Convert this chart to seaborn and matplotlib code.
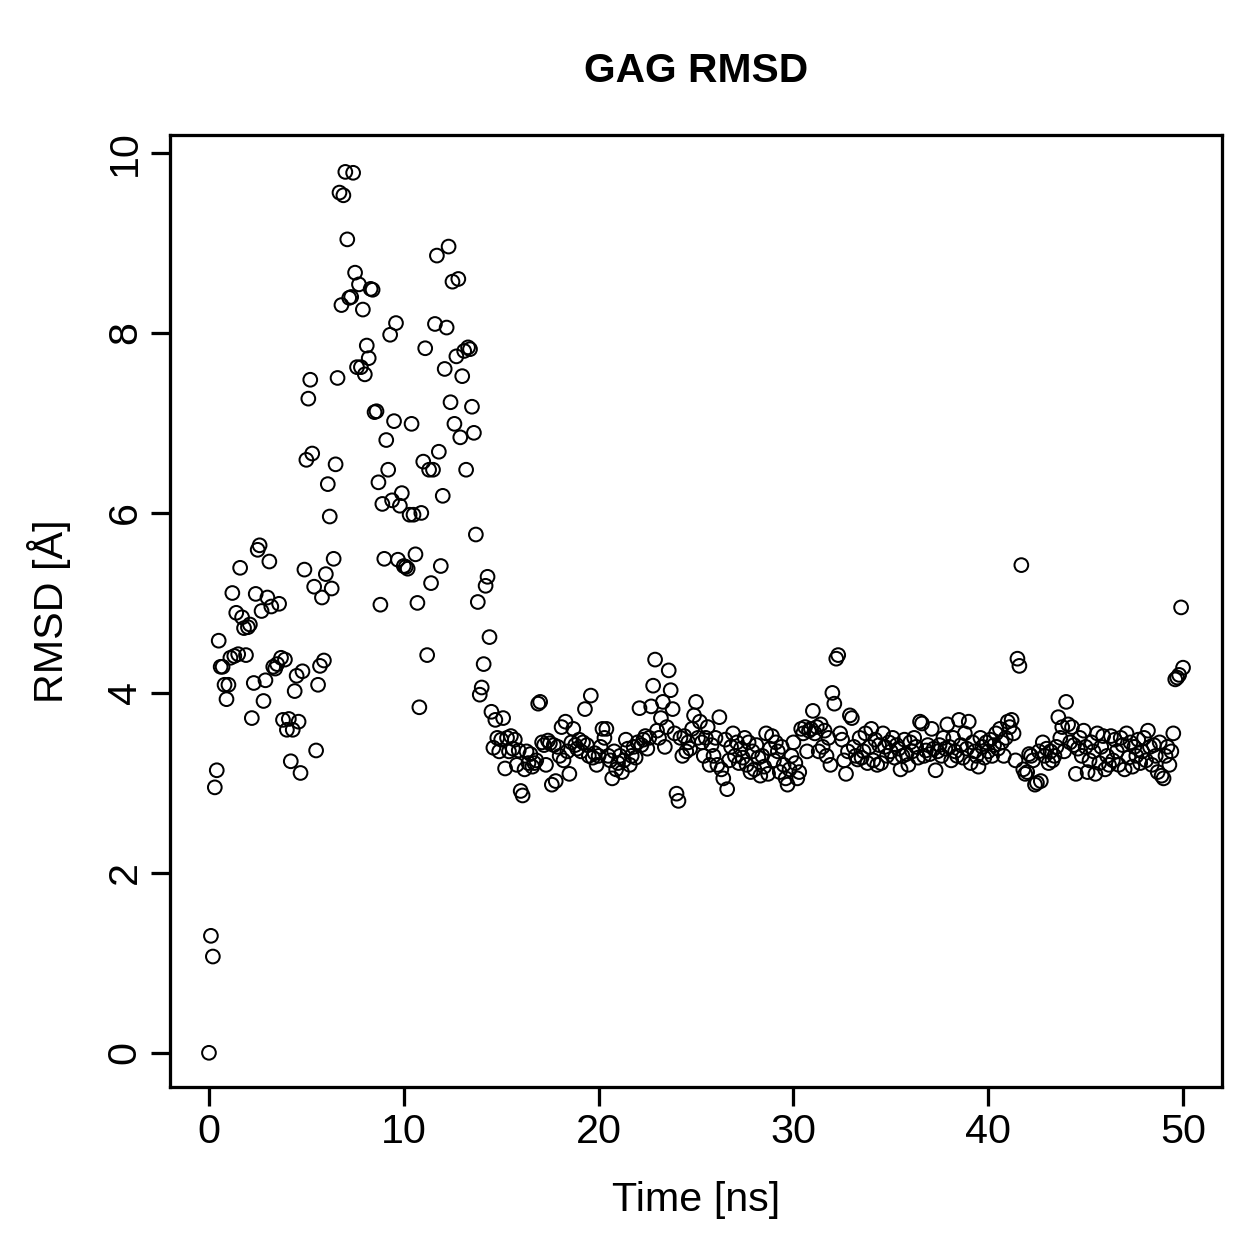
import numpy as np
import pandas as pd
import matplotlib
matplotlib.use("Agg")
import matplotlib.pyplot as plt
import seaborn as sns

# RMSD values (Å), sampled every 0.1 ns from 0 to 50 ns
rmsd_early = [
    0.0, 1.3, 1.07, 2.95, 3.14, 4.58, 4.29, 4.29, 4.09, 3.93,
    4.09, 4.39, 5.11, 4.41, 4.89, 4.43, 5.39, 4.84, 4.72, 4.42,
    4.73, 4.76, 3.72, 4.11, 5.1, 5.59, 5.64, 4.91, 3.91, 4.14,
    5.06, 5.46, 4.96, 4.29, 4.27, 4.32, 4.99, 4.39, 3.7, 4.37,
    3.59, 3.71, 3.24, 3.59, 4.02, 4.19, 3.68, 3.11, 4.24, 5.37,
    6.59, 7.27, 7.48, 6.66, 5.18, 3.36, 4.09, 4.3, 5.06, 4.36,
    5.32, 6.32, 5.96, 5.16, 5.49, 6.54, 7.5, 9.56, 8.31, 9.53,
    9.79, 9.04, 8.39, 8.4, 9.78, 8.67, 7.62, 8.54, 7.62, 8.26,
    7.54, 7.86, 7.72, 8.49, 8.48, 7.12, 7.13, 6.34, 4.98, 6.1,
    5.49, 6.81, 6.48, 7.98, 6.14, 7.02, 8.11, 5.48, 6.08, 6.22,
    5.41, 5.4, 5.38, 5.98, 6.99, 5.98, 5.54, 5.0, 3.84, 6.0,
    6.57, 7.83, 4.42, 6.48, 5.22, 6.48, 8.1, 8.86, 6.68, 5.41,
    6.19, 7.6, 8.06, 8.96, 7.23, 8.57, 6.99, 7.74, 8.6, 6.84,
    7.52, 7.8, 6.48, 7.84, 7.82, 7.18, 6.89, 5.76, 5.01, 3.98,
    4.06, 4.32, 5.19, 5.29, 4.62, 3.79, 3.39, 3.7, 3.5, 3.35,
]

rmsd_late = [
    3.48, 3.72, 3.16, 3.5, 3.35, 3.52, 3.38, 3.48, 3.2, 3.36,
    2.91, 2.86, 3.15, 3.35, 3.22, 3.32, 3.18, 3.22, 3.25, 3.88,
    3.9, 3.45, 3.42, 3.2, 3.47, 3.44, 2.98, 3.42, 3.02, 3.4,
    3.3, 3.62, 3.25, 3.68, 3.35, 3.1, 3.45, 3.6, 3.42, 3.38,
    3.48, 3.35, 3.45, 3.82, 3.42, 3.3, 3.97, 3.28, 3.33, 3.2,
    3.3, 3.4, 3.6, 3.5, 3.6, 3.3, 3.25, 3.05, 3.35, 3.15,
    3.22, 3.3, 3.12, 3.25, 3.48, 3.38, 3.2, 3.3, 3.4, 3.28,
    3.45, 3.83, 3.42, 3.48, 3.52, 3.38, 3.5, 3.85, 4.08, 4.37,
    3.58, 3.5, 3.72, 3.9, 3.4, 3.62, 4.25, 4.03, 3.82, 3.55,
    2.88, 2.8, 3.5, 3.3, 3.52, 3.35, 3.45, 3.38, 3.6, 3.75,
    3.9, 3.5, 3.68, 3.45, 3.3, 3.5, 3.62, 3.2, 3.42, 3.3,
    3.5, 3.2, 3.73, 3.15, 3.05, 3.48, 2.93, 3.25, 3.4, 3.55,
    3.3, 3.45, 3.22, 3.38, 3.28, 3.5, 3.2, 3.45, 3.12, 3.35,
    3.15, 3.42, 3.28, 3.08, 3.3, 3.18, 3.55, 3.1, 3.38, 3.52,
    3.25, 3.45, 3.35, 3.12, 3.4, 3.2, 3.05, 2.98, 3.15, 3.3,
    3.45, 3.22, 3.05, 3.12, 3.6, 3.55, 3.62, 3.35, 3.58, 3.6,
    3.8, 3.55, 3.62, 3.35, 3.65, 3.4, 3.58, 3.3, 3.5, 3.2,
    4.0, 3.88, 4.38, 4.42, 3.55, 3.48, 3.25, 3.1, 3.35, 3.75,
    3.72, 3.4, 3.3, 3.26, 3.5, 3.28, 3.35, 3.55, 3.22, 3.4,
    3.6, 3.25, 3.48, 3.2, 3.42, 3.22, 3.55, 3.4, 3.3, 3.45,
    3.35, 3.5, 3.28, 3.42, 3.38, 3.15, 3.3, 3.48, 3.32, 3.2,
    3.45, 3.35, 3.5, 3.4, 3.28, 3.68, 3.66, 3.3, 3.36, 3.42,
    3.32, 3.6, 3.38, 3.14, 3.35, 3.42, 3.3, 3.5, 3.38, 3.65,
    3.4, 3.25, 3.5, 3.35, 3.3, 3.7, 3.42, 3.28, 3.55, 3.38,
    3.68, 3.22, 3.45, 3.35, 3.3, 3.18, 3.5, 3.4, 3.28, 3.45,
    3.35, 3.48, 3.3, 3.42, 3.55, 3.38, 3.6, 3.45, 3.3, 3.5,
    3.68, 3.62, 3.7, 3.55, 3.25, 4.38, 4.3, 5.42, 3.15, 3.1,
    3.12, 3.32, 3.3, 3.25, 2.98, 3.0, 3.35, 3.02, 3.45, 3.3,
    3.38, 3.22, 3.35, 3.25, 3.3, 3.4, 3.73, 3.5, 3.62, 3.35,
    3.9, 3.65, 3.45, 3.62, 3.42, 3.1, 3.38, 3.5, 3.3, 3.58,
    3.4, 3.12, 3.25, 3.45, 3.35, 3.1, 3.55, 3.22, 3.4, 3.52,
    3.15, 3.3, 3.2, 3.52, 3.25, 3.48, 3.35, 3.2, 3.5, 3.42,
    3.15, 3.55, 3.28, 3.45, 3.18, 3.4, 3.3, 3.48, 3.22, 3.35,
    3.5, 3.25, 3.58, 3.4, 3.2, 3.42, 3.3, 3.12, 3.45, 3.08,
    3.05, 3.3, 3.4, 3.2, 3.35, 3.55, 4.15, 4.17, 4.2, 4.95,
    4.28,
]

rmsd = rmsd_early + rmsd_late
time_ns = [round(0.1 * i, 1) for i in range(len(rmsd))]

x_ticks = [0, 10, 20, 30, 40, 50]
y_ticks = [0, 2, 4, 6, 8, 10]

df = pd.DataFrame({"Time": time_ns, "RMSD": rmsd})

sns.set_theme(style="white")
plt.rcParams["font.family"] = ["Liberation Sans", "DejaVu Sans"]

W = 1259
dpi = 180
fig = plt.figure(figsize=(W / dpi, W / dpi), dpi=dpi)
ax = fig.add_axes([170 / W, 1 - 1087 / W, (1222 - 170) / W, (1087 - 135) / W])

sns.scatterplot(data=df, x="Time", y="RMSD", ax=ax, marker="o",
                facecolors="none", edgecolor="black", s=30, linewidth=0.8)

ax.set_xlim(-2, 52)
ax.set_ylim(-0.38, 10.2)
ax.set_xticks(x_ticks)
ax.set_yticks(y_ticks)
ax.set_xticklabels([str(v) for v in x_ticks])
ax.set_yticklabels([str(v) for v in y_ticks], rotation=90, va="center")

for sp in ax.spines.values():
    sp.set_visible(True)
    sp.set_color("black")
    sp.set_linewidth(1.3)

ax.tick_params(axis="both", direction="out", length=7.5, width=1.3,
               color="black", labelsize=16.5, labelcolor="black", pad=3,
               bottom=True, left=True)

ax.set_xlabel("Time [ns]", fontsize=16.5, labelpad=12, color="black")
ax.set_ylabel("RMSD [Å]", fontsize=16.5, labelpad=14, color="black")
ax.set_title("GAG RMSD", fontsize=16.3, fontweight="bold", pad=21, color="black")

fig.savefig("out.png", dpi=dpi)
